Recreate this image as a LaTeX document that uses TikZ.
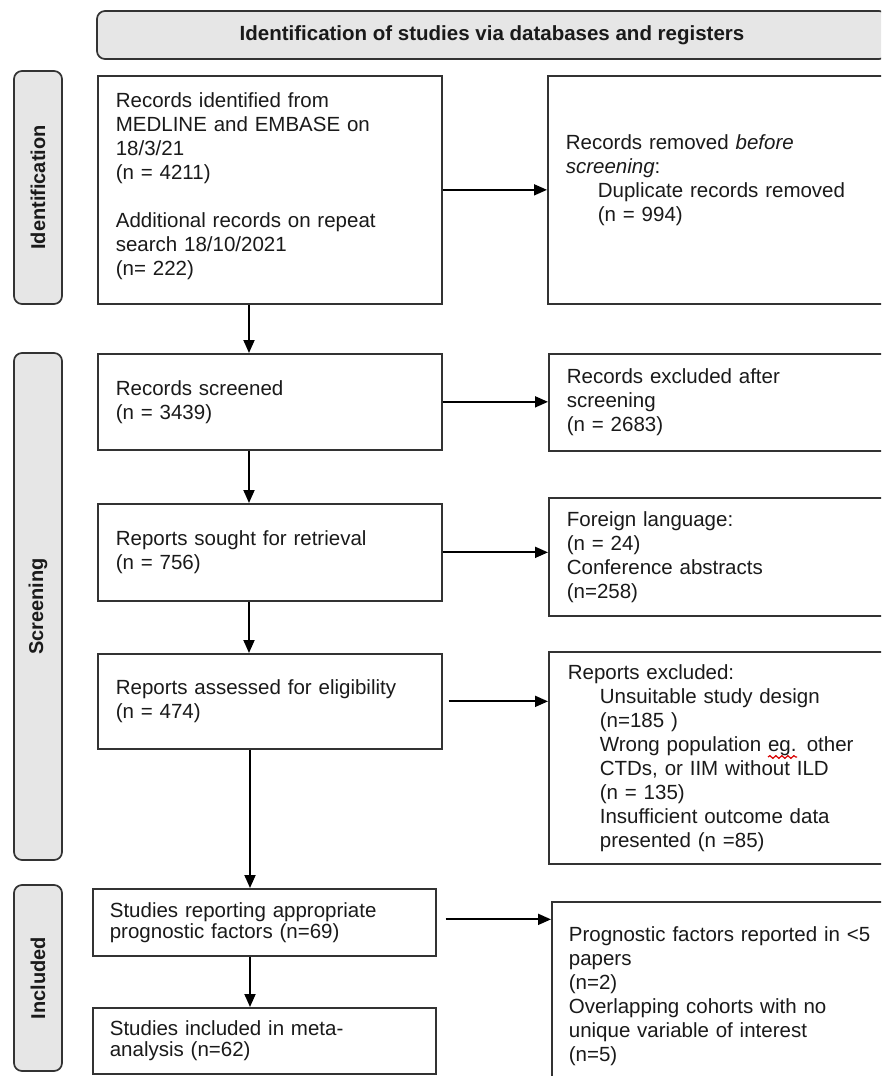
\documentclass[tikz,border=0pt]{standalone}
\usepackage{fontspec}
\setmainfont{Liberation Sans}
\usetikzlibrary{arrows.meta,decorations.pathmorphing}
\definecolor{boxline}{HTML}{333333}
\definecolor{txt}{HTML}{1A1A1A}
\definecolor{sidegray}{HTML}{E6E6E6}
\begin{document}
\begin{tikzpicture}[x=1pt,y=-1pt,
  box/.style={draw=boxline, line width=1.7pt, rectangle, align=left,
    text width=308pt, inner xsep=18pt, inner ysep=0pt, text=txt,
    font=\fontsize{20.5}{24}\selectfont, anchor=north west},
  side/.style={draw=boxline, line width=1.7pt, rounded corners=8pt, fill=sidegray,
    rotate=90, minimum height=48pt, inner sep=0pt, text=txt,
    font=\fontsize{20}{24}\selectfont\bfseries},
  arr/.style={draw=black, line width=1.8pt, -{Triangle[length=13pt,width=11pt]}}]
\useasboundingbox (0,0) rectangle (881,1076);
\clip (0,0) rectangle (881,1076);
\fill[white] (0,0) rectangle (881,1076);

% banner
\node[draw=boxline, line width=1.7pt, rounded corners=8pt, fill=sidegray,
  minimum width=790pt, minimum height=48pt, inner sep=0pt, text=txt,
  font=\fontsize{20.5}{24}\selectfont\bfseries] (banner) at (492,35)
  {Identification of studies via databases and registers};

% side labels
\node[side, minimum width=233pt] (sid) at (38,187.5) {Identification};
\node[side, minimum width=507pt] (sscr) at (38,606.5) {Screening};
\node[side, minimum width=186pt] (sinc) at (38,978) {Included};

% left column
\node[box, minimum height=228pt] (b1) at (97,75)
  {Records identified from\\MEDLINE and EMBASE on\\18/3/21\\(n = 4211)\\[24pt]Additional records on repeat\\search 18/10/2021\\(n= 222)\\[-12pt]\mbox{}};
\node[box, minimum height=96pt] (b3) at (97,353)
  {Records screened\\(n = 3439)};
\node[box, minimum height=97pt] (b4) at (97,503)
  {Reports sought for retrieval\\(n = 756)};
\node[box, minimum height=95pt] (b5) at (97,653)
  {Reports assessed for eligibility\\(n = 474)};
\node[box, minimum height=67pt, text width=309pt, inner xsep=17pt,
  font=\fontsize{20.5}{21}\selectfont] (b6) at (92,888)
  {Studies reporting appropriate\\prognostic factors (n=69)};
\node[box, minimum height=66pt, text width=309pt, inner xsep=17pt,
  font=\fontsize{20.5}{21}\selectfont] (b7) at (92,1007)
  {Studies included in meta-\\analysis (n=62)};

% right column
\node[box, minimum height=228pt] (r1) at (547,75)
  {Records removed \textit{before}\\\textit{screening}:\\\hspace*{32pt}Duplicate records removed\\\hspace*{32pt}(n = 994)\\\mbox{}};
\node[box, minimum height=97pt] (r3) at (548,353)
  {Records excluded after\\screening\\(n = 2683)};
\node[box, minimum height=118pt] (r4) at (548,497)
  {Foreign language:\\(n = 24)\\Conference abstracts\\(n=258)};
\node[box, minimum height=212pt, text width=310pt, inner xsep=19pt] (r5) at (548,651)
  {Reports excluded:\\\hspace*{32pt}Unsuitable study design\\\hspace*{32pt}(n=185 )\\\hspace*{32pt}Wrong population eg. other\\\hspace*{32pt}CTDs, or IIM without ILD\\\hspace*{32pt}(n = 135)\\\hspace*{32pt}Insufficient outcome data\\\hspace*{32pt}presented (n =85)};
\node[box, minimum height=188pt, text width=308pt, inner xsep=17pt] (r6) at (551,901)
  {Prognostic factors reported in <5\\papers\\(n=2)\\Overlapping cohorts with no\\unique variable of interest\\(n=5)};

% spell-check mark
\draw[red!85!black, line width=1.2pt, decorate,
  decoration={snake, amplitude=1.3pt, segment length=6pt}] (768,757) -- (797,757);

% connectors
\coordinate (cx) at (249,0);
\coordinate (cx2) at (250,0);
\draw[arr] (b1.east) -- (b1.east -| r1.west);
\draw[arr] (b1.south -| cx) -- (b3.north -| cx);
\draw[arr] (b3.east) -- (b3.east -| r3.west);
\draw[arr] (b3.south -| cx) -- (b4.north -| cx);
\draw[arr] (b4.east) -- (b4.east -| r4.west);
\draw[arr] (b4.south -| cx) -- (b5.north -| cx);
\draw[arr] ([xshift=6pt]b5.east) -- (b5.east -| r5.west);
\draw[arr] (b5.south -| cx2) -- (b6.north -| cx2);
\draw[arr] ([xshift=9pt,yshift=3pt]b6.east) -- ([yshift=3pt]b6.east -| r6.west);
\draw[arr] (b6.south -| cx2) -- (b7.north -| cx2);
\end{tikzpicture}
\end{document}
